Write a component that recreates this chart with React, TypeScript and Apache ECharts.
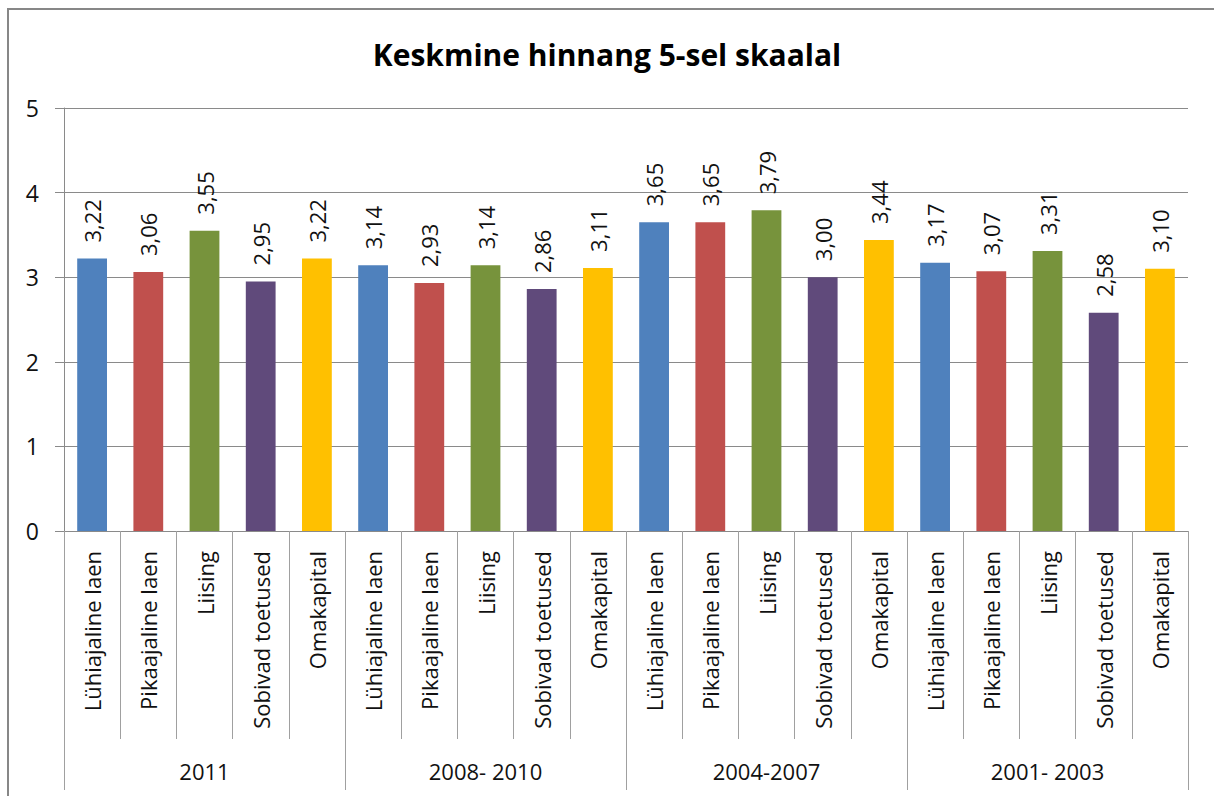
import React, { useEffect, useRef } from "react";
import * as echarts from "echarts";

const chartTitle = "Keskmine hinnang 5-sel skaalal";
const groups = ["2011", "2008- 2010", "2004-2007", "2001- 2003"];
const types = ["Lühiajaline laen", "Pikaajaline laen", "Liising", "Sobivad toetused", "Omakapital"];
const typeColors = ["#4F81BD", "#C0504D", "#77933C", "#604A7B", "#FFC000"];
const values2011 = [3.22, 3.06, 3.55, 2.95, 3.22];
const values2008 = [3.14, 2.93, 3.14, 2.86, 3.11];
const values2004 = [3.65, 3.65, 3.79, 3.0, 3.44];
const values2001 = [3.17, 3.07, 3.31, 2.58, 3.1];
const yMin = 0;
const yMax = 5;
const yStep = 1;

const FONT = "'Open Sans', 'Noto Sans', sans-serif";

export default function App() {
  const ref = useRef<HTMLDivElement>(null);
  useEffect(() => {
    if (!ref.current) return;
    const chart = echarts.init(ref.current, null, { renderer: "svg" });
    const groupValues = [values2011, values2008, values2004, values2001];
    const categories: string[] = [];
    const data: any[] = [];
    groupValues.forEach((vals) => {
      vals.forEach((v, i) => {
        categories.push(types[i]);
        data.push({ value: v, itemStyle: { color: typeColors[i] } });
      });
    });
    const lineColor = "#8a8a8a";
    chart.setOption({
      animation: false,
      backgroundColor: "#ffffff",
      title: {
        text: chartTitle,
        left: "center",
        top: 34,
        textStyle: { fontFamily: FONT, fontSize: 30, fontWeight: "bold", color: "#000" },
      },
      graphic: [
        {
          type: "rect",
          shape: { x: 8, y: 9, width: 1300, height: 900 },
          style: { fill: "none", stroke: "#878787", lineWidth: 2 },
          silent: true,
        },
      ],
      grid: { left: 64, right: 26, top: 108, bottom: 265, containLabel: false },
      xAxis: [
        {
          type: "category",
          data: categories,
          position: "bottom",
          axisLine: { show: true, lineStyle: { color: lineColor, width: 1 } },
          axisTick: { show: true, interval: 0, length: 208, lineStyle: { color: "#a0a0a0" } },
          axisLabel: {
            interval: 0,
            rotate: 90,
            margin: 20,
            fontFamily: FONT,
            fontSize: 22,
            color: "#111",
          },
        },
        {
          type: "category",
          data: groups,
          position: "bottom",
          axisLine: { show: false },
          axisTick: { show: true, interval: 0, length: 259, lineStyle: { color: "#a0a0a0" } },
          axisLabel: {
            interval: 0,
            margin: 229,
            fontFamily: FONT,
            fontSize: 22,
            color: "#111",
          },
        },
      ],
      yAxis: {
        type: "value",
        min: yMin,
        max: yMax,
        interval: yStep,
        axisLine: { show: true, lineStyle: { color: lineColor } },
        axisTick: { show: true, length: 9, lineStyle: { color: lineColor } },
        splitLine: { show: true, lineStyle: { color: lineColor, width: 1 } },
        axisLabel: { margin: 25, fontFamily: FONT, fontSize: 23, color: "#111" },
      },
      series: [
        {
          type: "bar",
          xAxisIndex: 0,
          data,
          barCategoryGap: "47%",
          label: {
            show: true,
            position: "top",
            rotate: 90,
            align: "left",
            verticalAlign: "middle",
            distance: 16,
            fontFamily: FONT,
            fontSize: 22,
            color: "#111",
            formatter: (p: any) => p.value.toFixed(2).replace(".", ","),
          },
        },
      ],
    });
    return () => chart.dispose();
  }, []);
  return (
    <div
      ref={ref}
      style={{ position: "absolute", left: 0, top: 0, width: 1214, height: 796 }}
    />
  );
}
